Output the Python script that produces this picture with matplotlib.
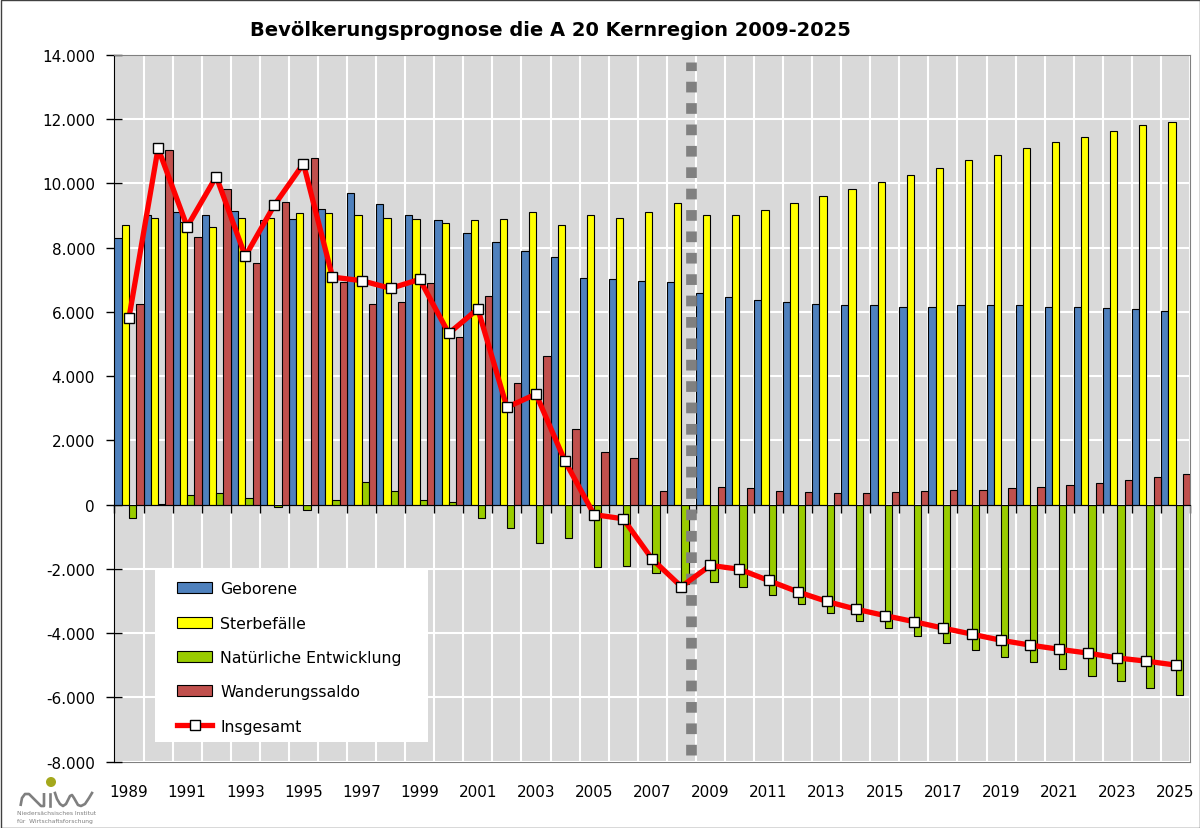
import numpy as np
import matplotlib.pyplot as plt
from matplotlib.ticker import FuncFormatter, FixedLocator
from matplotlib.patches import Rectangle, Circle

years = list(range(1989, 2026))

geborene = [8290, 9010, 9100, 9010, 9150, 8860, 8890, 9190, 9710, 9360,
            9010, 8860, 8450, 8160, 7900, 7700, 7040, 7010, 6970, 6920,
            6590, 6450, 6370, 6290, 6240, 6200, 6200, 6160, 6160, 6200,
            6200, 6200, 6160, 6160, 6120, 6080, 6040]
sterbefaelle = [8710, 8930, 8790, 8630, 8930, 8930, 9070, 9070, 9010, 8930,
                8890, 8760, 8860, 8890, 9100, 8710, 9010, 8930, 9100, 9400,
                9010, 9010, 9180, 9400, 9610, 9820, 10050, 10260, 10480, 10730,
                10890, 11110, 11290, 11450, 11630, 11800, 11920]
natuerlich = [-410, 30, 300, 350, 220, -80, -170, 160, 690, 440,
              130, 90, -410, -730, -1190, -1030, -1950, -1920, -2120, -2480,
              -2410, -2550, -2810, -3100, -3370, -3620, -3840, -4080, -4300, -4520,
              -4740, -4900, -5110, -5330, -5490, -5710, -5930]
wanderung = [6240, 11020, 8340, 9820, 7520, 9410, 10780, 6920, 6240, 6290,
             6890, 5210, 6500, 3770, 4620, 2360, 1630, 1460, 440, 0,
             560, 520, 430, 400, 350, 350, 400, 430, 470, 470,
             520, 560, 600, 680, 780, 860, 950]
insgesamt = [5820, 11090, 8650, 10210, 7730, 9320, 10610, 7080, 6970, 6730,
             7010, 5330, 6090, 3030, 3440, 1350, -310, -440, -1700, -2550,
             -1890, -2010, -2360, -2710, -3010, -3250, -3450, -3640, -3840, -4030,
             -4220, -4370, -4500, -4620, -4770, -4870, -4990]

series = [("Geborene", geborene, "#4F81BD"),
          ("Sterbefälle", sterbefaelle, "#FFFF00"),
          ("Natürliche Entwicklung", natuerlich, "#99CC00"),
          ("Wanderungssaldo", wanderung, "#C0504D")]

prognose_start = 2009

fig = plt.figure(figsize=(12, 8.29), dpi=100)
ax = fig.add_axes([0.0954, 0.0799, 0.8963, 0.8529])
ax.set_facecolor("#D9D9D9")

n = len(years)
x = np.arange(n)
w = 0.25
handles = []
for k, (name, vals, col) in enumerate(series):
    b = ax.bar(x + (k - 1.5) * w, vals, w, color=col, edgecolor="black",
               linewidth=0.8, label=name, zorder=3)
    handles.append(b)

# boundary between past and forecast
xp = years.index(prognose_start) - 0.66
ax.axvline(xp, ymin=0.01, ymax=0.99, color="#808080", lw=7.7,
           dashes=(1.0, 1.0), dash_capstyle="butt", zorder=4)

ln, = ax.plot(x, insgesamt, color="#FF0000", lw=3.8, marker="s", ms=7.5,
              mfc="white", mec="black", mew=1.0, label="Insgesamt", zorder=5)
handles.append(ln)

ax.set_xlim(-0.5, n - 0.5)
ax.set_ylim(-8000, 14000)
ax.yaxis.set_major_locator(FixedLocator(np.arange(-8000, 14001, 2000)))
ax.yaxis.set_major_formatter(FuncFormatter(lambda v, p: f"{v:,.0f}".replace(",", ".")))
ax.set_xticks(np.arange(n + 1) - 0.5)
ax.tick_params(axis="x", direction="out", length=6, width=1, labelbottom=False)
ax.tick_params(axis="y", direction="inout", length=12, width=1, labelsize=11, pad=8)
ax.grid(True, color="white", lw=1.5, zorder=0)
ax.set_axisbelow(True)

ax.spines["bottom"].set_position(("data", 0))
ax.spines["bottom"].set_zorder(4)
ax.spines["left"].set_color("black")
for s in ["top", "right"]:
    ax.spines[s].set_color("#808080")

sec = ax.secondary_xaxis(0.0)
sec.set_xticks(x[::2])
sec.set_xticklabels([str(y) for y in years[::2]])
sec.tick_params(length=0, labelsize=11, pad=16)
sec.spines["bottom"].set_color("#808080")

# white legend box, then a frameless legend on it
ax.add_patch(Rectangle((0.0377, 0.0283), 0.2538, 0.2433, transform=ax.transAxes,
                       facecolor="white", edgecolor="none", zorder=6))
leg = ax.legend(handles=handles, loc="upper left", bbox_to_anchor=(0.0583, 0.2550),
                borderaxespad=0, borderpad=0, fontsize=11.3, frameon=False,
                handlelength=2.25, handleheight=0.7, handletextpad=0.5,
                labelspacing=1.23)
leg.set_zorder(7)

fig.text(550 / 1200, 1 - 30 / 829, "Bevölkerungsprognose die A 20 Kernregion 2009-2025",
         ha="center", va="center", fontsize=14, fontweight="bold")

# overlay in pixel coordinates for the frame and the logo
ov = fig.add_axes([0, 0, 1, 1], zorder=10)
ov.set_xlim(0, 1200)
ov.set_ylim(829, 0)
ov.axis("off")
ov.add_patch(Rectangle((0.5, 0.5), 1199, 828, fill=False, ec="#404040", lw=1))
grey = "#7F7F7F"
ov.plot([20.5, 22, 25, 29, 32, 41, 44, 44], [807, 799, 795, 795, 798, 807, 807, 794],
        color=grey, lw=1.9, solid_capstyle="butt", solid_joinstyle="round")
ov.plot([50, 50], [795, 807], color=grey, lw=1.9)
ov.plot([55, 57, 60, 63, 66, 70, 72, 74, 78, 81, 85, 89, 92],
        [794, 800, 805, 807, 805, 797, 796, 799, 806, 807, 805, 799, 794],
        color=grey, lw=1.9, solid_joinstyle="round")
ov.add_patch(Circle((51, 783), 4.3, color="#A4A81C"))
ov.text(17, 814, "Niedersächsisches Institut", fontsize=4.3, color=grey, va="center")
ov.text(17, 822, "für  Wirtschaftsforschung", fontsize=4.3, color=grey, va="center")

fig.savefig("out.png", dpi=100)
